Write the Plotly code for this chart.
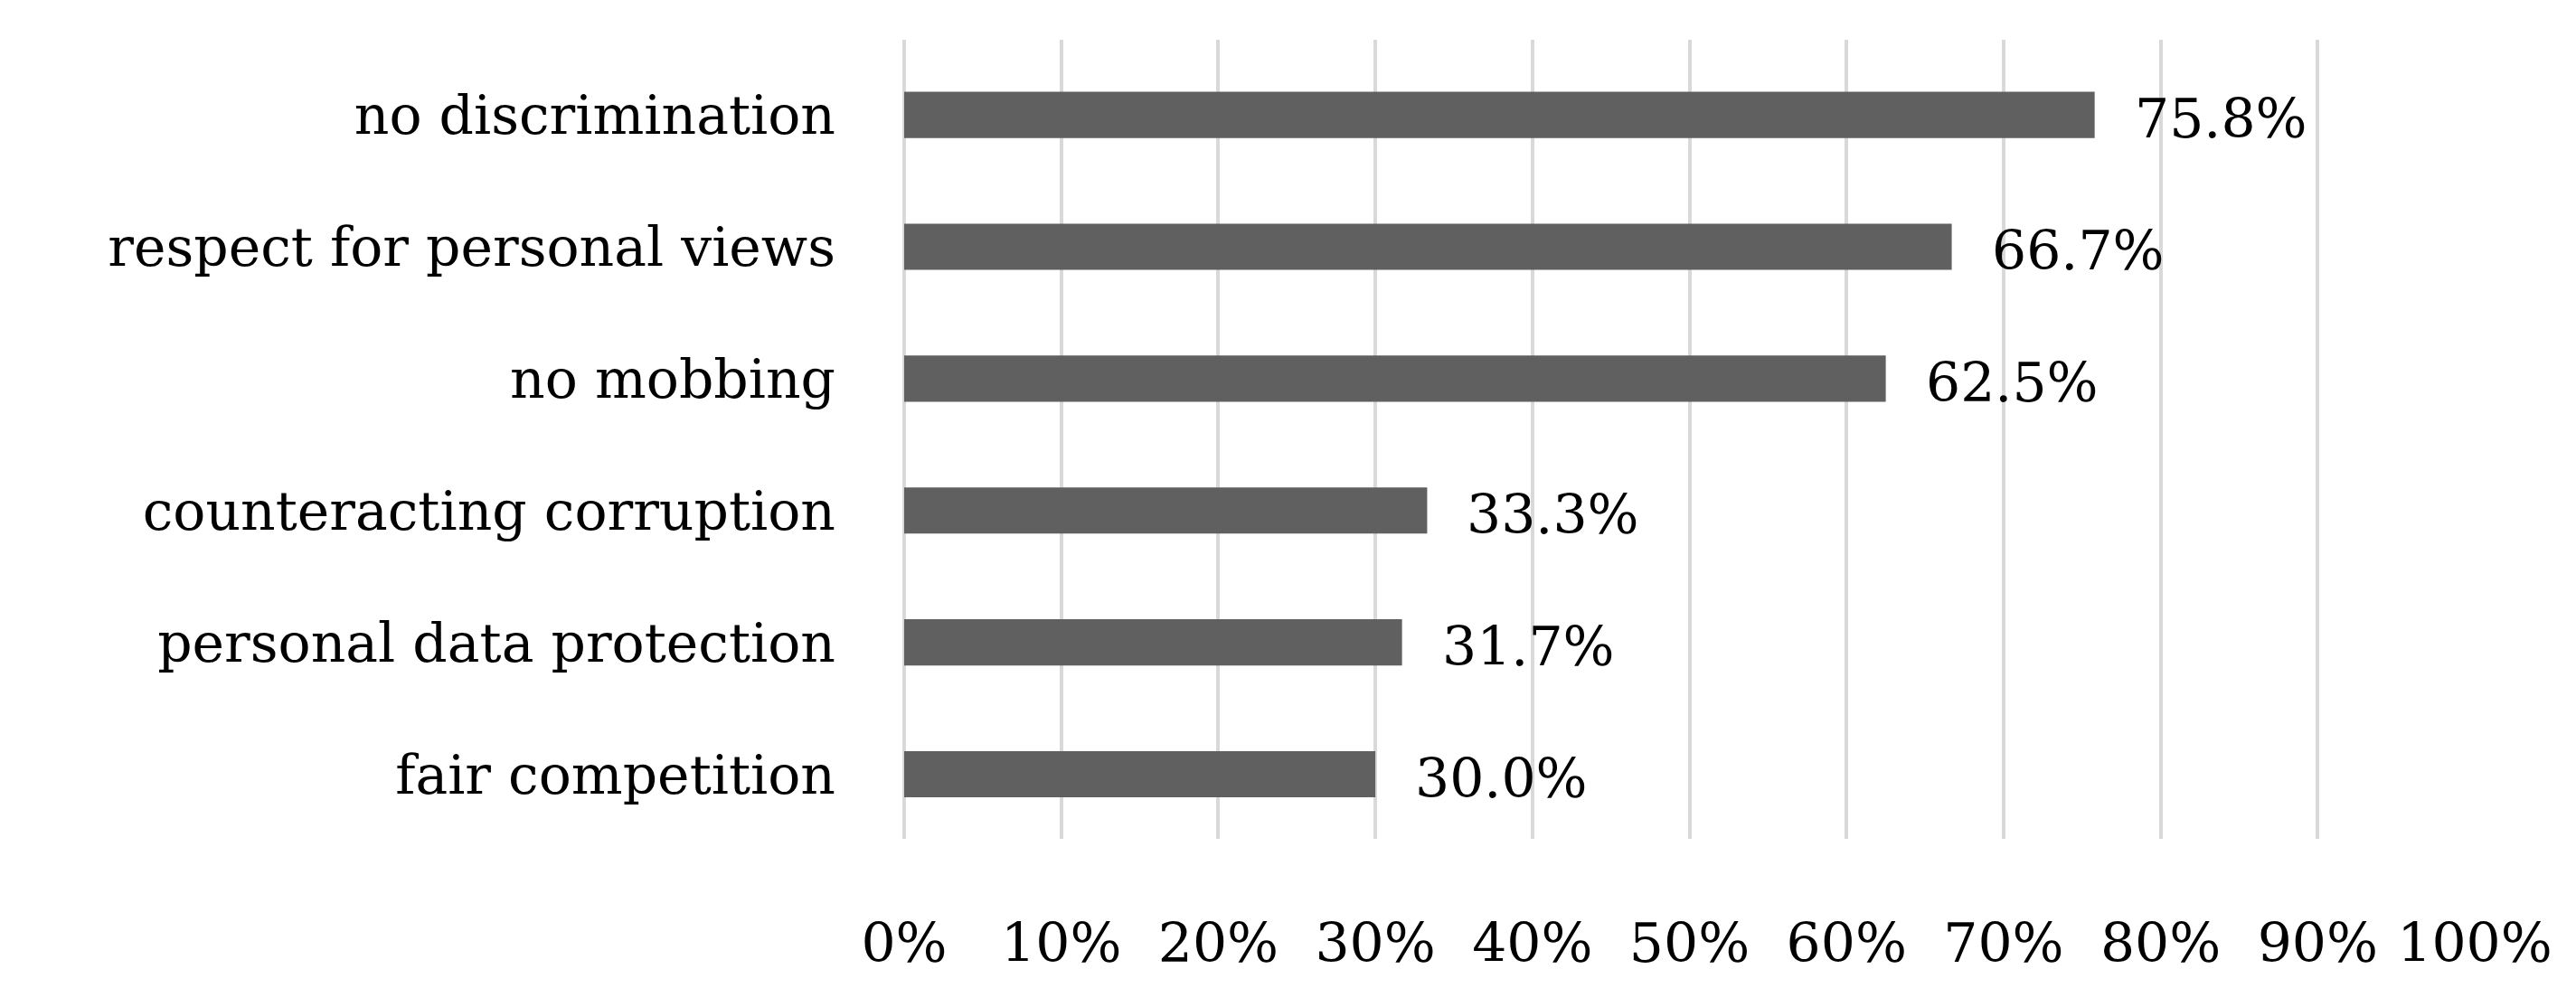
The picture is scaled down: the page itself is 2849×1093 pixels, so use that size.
import plotly.graph_objects as go

categories = ["fair competition", "personal data protection", "counteracting corruption",
              "no mobbing", "respect for personal views", "no discrimination"]
values = [30.0, 31.7, 33.3, 62.5, 66.7, 75.8]
tick_vals = [0, 10, 20, 30, 40, 50, 60, 70, 80, 90, 100]
tick_text = [f"{v}%" for v in tick_vals]

W, H = 2849, 1093
font = dict(family="DejaVu Serif", size=60, color="#000000")

fig = go.Figure(go.Bar(
    y=categories, x=values, orientation="h",
    marker=dict(color="#606060", line=dict(width=0)),
    width=0.35,
))
for c, v in zip(categories, values):
    fig.add_annotation(x=v, y=c, text=f"{v:.1f}%", showarrow=False,
                       xanchor="left", yanchor="middle", xshift=42, yshift=-4,
                       font=font)
fig.update_layout(
    width=W, height=H, paper_bgcolor="white", plot_bgcolor="white",
    margin=dict(l=992, r=W - 2729, t=36, b=H - 920),
    font=font, showlegend=False,
    xaxis=dict(range=[0, 100], tickvals=tick_vals, ticktext=tick_text,
               showgrid=True, gridcolor="#d9d9d9", gridwidth=4,
               zeroline=True, zerolinecolor="#d9d9d9", zerolinewidth=4,
               showline=False, ticks="", ticklabelstandoff=75),
    yaxis=dict(categoryorder="array", categoryarray=categories,
               range=[-0.49, 5.57], showgrid=False, zeroline=False,
               ticks="", ticklabelstandoff=75),
)
fig.write_html("out.html")
